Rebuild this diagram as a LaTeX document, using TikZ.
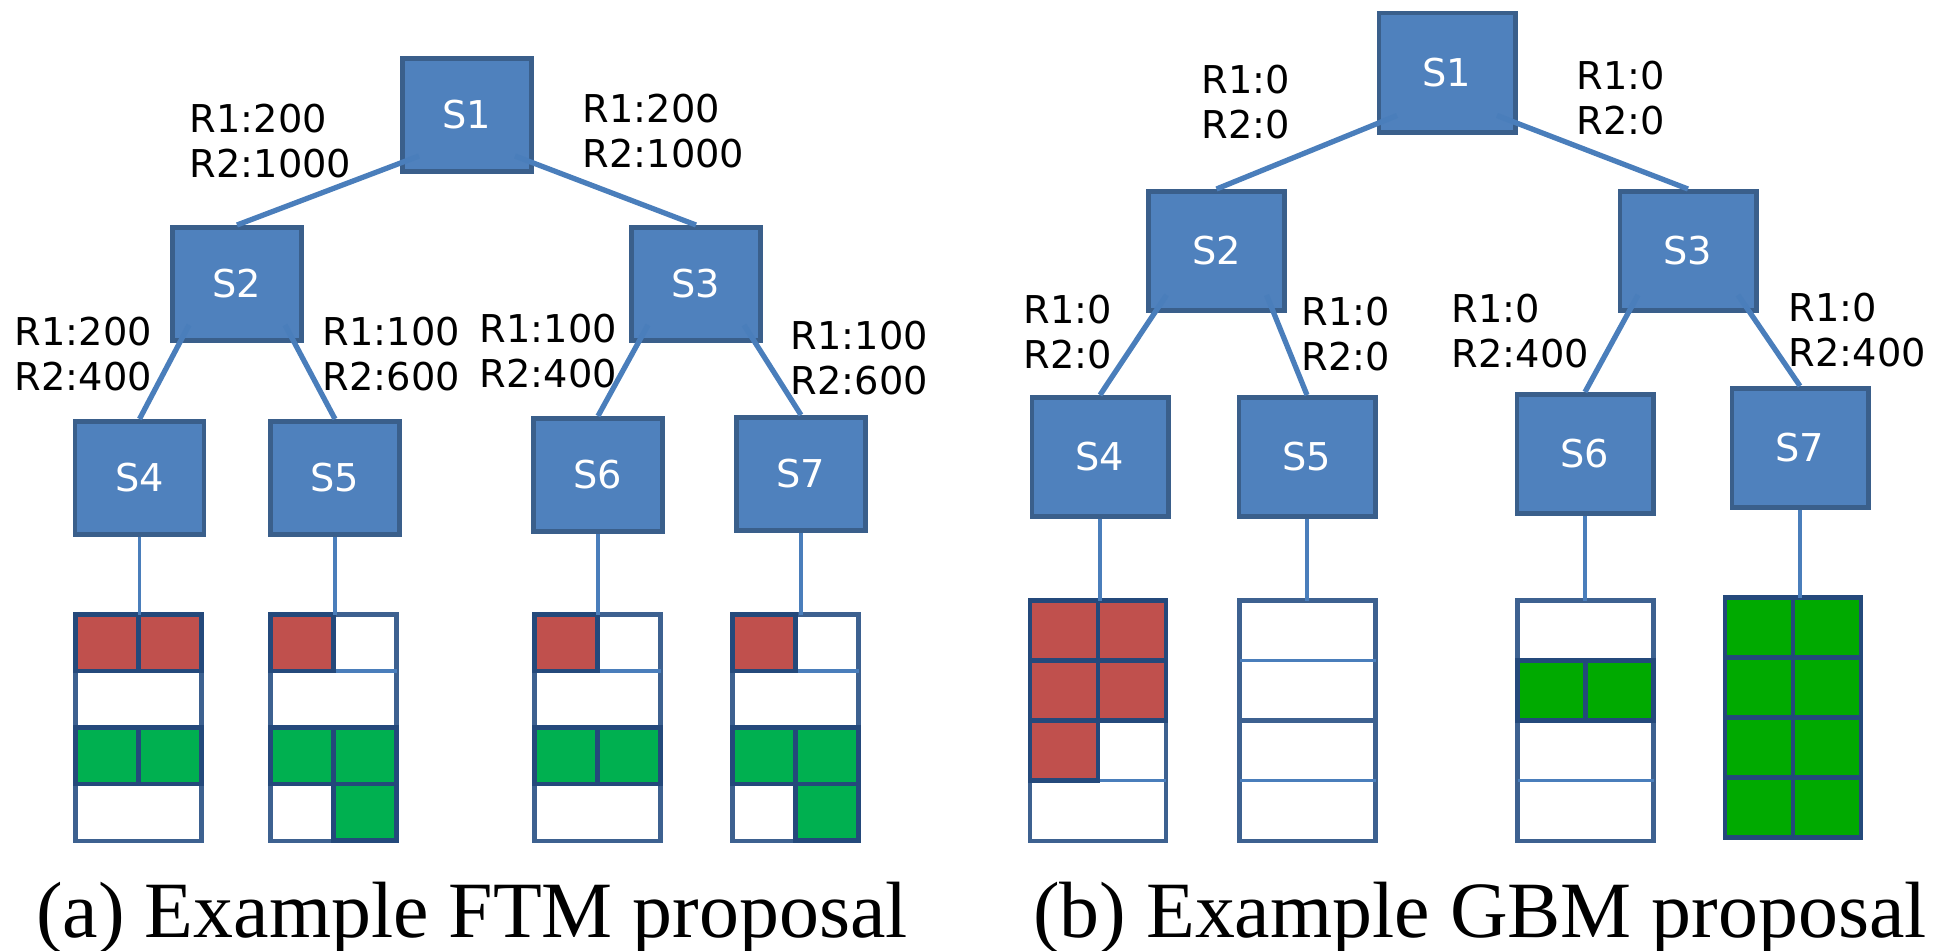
\documentclass[tikz,border=0pt]{standalone}
\usepackage{fontspec}
\setmainfont{Liberation Serif}
\newfontfamily\lblfont{DejaVu Sans}
\usetikzlibrary{calc}

\definecolor{boxfill}{HTML}{4F81BD}
\definecolor{boxline}{HTML}{3A5F8B}
\definecolor{linkblue}{HTML}{4A7EBB}
\definecolor{frameblue}{HTML}{3D6190}
\definecolor{cellline}{HTML}{24497B}
\definecolor{redcell}{HTML}{C0504D}
\definecolor{greenA}{HTML}{00B050}
\definecolor{greenB}{HTML}{00AA00}

% one slot of a bucket: bucket, column, row, colour
\newcommand{\slotfill}[4]{%
  \draw[slot, fill=#4] ($(#1.north west)+(#2*\cw,#3*\ch)$) rectangle ++(\cw,\ch);}
% row lines of a bucket
\newcommand{\rowlines}[1]{%
  \foreach \r in {1,2,3}
    \draw[divline] ($(#1.north west)+(0,\r*\ch)$) -- ++(2*\cw,0);}

\begin{document}
\begin{tikzpicture}[x=0.01cm, y=-0.01cm,
        sbox/.style = {rectangle, draw=boxline, line width=1.4pt,
            fill=boxfill, text=white, inner sep=0pt,
            font={\lblfont\fontsize{10.9pt}{12.8pt}\selectfont}},
        lbox/.style = {sbox, minimum width=1.29cm, minimum height=1.13cm},
        rbox/.style = {sbox, minimum width=1.36cm, minimum height=1.19cm},
        rate/.style = {anchor=west, align=left, inner sep=0pt,
            font={\lblfont\fontsize{10.9pt}{12.8pt}\selectfont}},
        link/.style = {draw=linkblue, line width=1.5pt},
        stem/.style = {draw=linkblue, line width=0.9pt},
        lbucket/.style = {rectangle, draw=frameblue, line width=1.2pt,
            fill=white, inner sep=0pt, outer sep=0pt, anchor=north west,
            minimum width=1.26cm, minimum height=2.26cm},
        rbucket/.style = {lbucket, minimum width=1.36cm, minimum height=2.40cm},
        slot/.style = {draw=cellline, line width=1.4pt},
        divline/.style = {draw=linkblue, line width=1pt},
        caption/.style = {anchor=base, inner sep=0pt,
            font={\fontsize{22.7pt}{27pt}\selectfont}}]

    \useasboundingbox (0,0) rectangle (1935,951);

    % ---- (a) FTM ----
    \def\cw{63}\def\ch{56.5}

    % Tree
    \node[lbox] (aS1) at (467,115) {S1};
    \node[lbox] (aS2) at (237,284) {S2};
    \node[lbox] (aS3) at (696,284) {S3};
    \node[lbox] (aS4) at (139.5,478) {S4};
    \node[lbox] (aS5) at (335,478) {S5};
    \node[lbox] (aS6) at (598,475) {S6};
    \node[lbox] (aS7) at (801,474) {S7};

    \draw[link] ([shift={(-48,-18)}]aS1.south) -- (aS2.north);
    \draw[link] ([shift={(48,-18)}]aS1.south) -- (aS3.north);
    \draw[link] ([shift={(-48,-18)}]aS2.south) -- (aS4.north);
    \draw[link] ([shift={(48,-18)}]aS2.south) -- (aS5.north);
    \draw[link] ([shift={(-48,-18)}]aS3.south) -- (aS6.north);
    \draw[link] ([shift={(48,-18)}]aS3.south) -- (aS7.north);

    % Rates
    \node[rate] (aR12) at (189,141.5) {R1:200\\R2:1000};
    \node[rate] (aR13) at (582,131.5) {R1:200\\R2:1000};
    \node[rate] (aR24) at (14,354) {R1:200\\R2:400};
    \node[rate] (aR25) at (322,354) {R1:100\\R2:600};
    \node[rate] (aR36) at (479,351.5) {R1:100\\R2:400};
    \node[rate] (aR37) at (790,358) {R1:100\\R2:600};

    % Buckets
    \node[lbucket] (aB4) at (75.5,614.5) {};
    \node[lbucket] (aB5) at (270.5,614.5) {};
    \node[lbucket] (aB6) at (534.5,614.5) {};
    \node[lbucket] (aB7) at (732.5,614.5) {};
    \foreach \b in {aB4,aB5,aB6,aB7} {\rowlines{\b}}

    \slotfill{aB4}{0}{0}{redcell} \slotfill{aB4}{1}{0}{redcell}
    \slotfill{aB4}{0}{2}{greenA} \slotfill{aB4}{1}{2}{greenA}
    \slotfill{aB5}{0}{0}{redcell}
    \slotfill{aB5}{0}{2}{greenA} \slotfill{aB5}{1}{2}{greenA}
    \slotfill{aB5}{1}{3}{greenA}
    \slotfill{aB6}{0}{0}{redcell}
    \slotfill{aB6}{0}{2}{greenA} \slotfill{aB6}{1}{2}{greenA}
    \slotfill{aB7}{0}{0}{redcell}
    \slotfill{aB7}{0}{2}{greenA} \slotfill{aB7}{1}{2}{greenA}
    \slotfill{aB7}{1}{3}{greenA}

    \foreach \i in {4,5,6,7}
        \draw[stem] (aS\i.south) -- (aS\i.south |- aB\i.north);

    \node[caption] (capA) at (472,937) {(a) Example FTM proposal};

    % ---- (b) GBM ----
    \def\cw{68}\def\ch{60}

    % Tree
    \node[rbox] (bS1) at (1447,72.5) {S1};
    \node[rbox] (bS2) at (1216.5,251) {S2};
    \node[rbox] (bS3) at (1688,251) {S3};
    \node[rbox] (bS4) at (1100,457) {S4};
    \node[rbox] (bS5) at (1307,457) {S5};
    \node[rbox] (bS6) at (1585,454) {S6};
    \node[rbox] (bS7) at (1800,448) {S7};

    \draw[link] ([shift={(-50,-19)}]bS1.south) -- (bS2.north);
    \draw[link] ([shift={(50,-19)}]bS1.south) -- (bS3.north);
    \draw[link] ([shift={(-50,-18)}]bS2.south) -- (bS4.north);
    \draw[link] ([shift={(50,-18)}]bS2.south) -- (bS5.north);
    \draw[link] ([shift={(-50,-18)}]bS3.south) -- (bS6.north);
    \draw[link] ([shift={(50,-18)}]bS3.south) -- (bS7.north);

    % Rates
    \node[rate] (bR12) at (1201,102) {R1:0\\R2:0};
    \node[rate] (bR13) at (1576,98.5) {R1:0\\R2:0};
    \node[rate] (bR24) at (1023,332) {R1:0\\R2:0};
    \node[rate] (bR25) at (1301,334) {R1:0\\R2:0};
    \node[rate] (bR36) at (1451,331.5) {R1:0\\R2:400};
    \node[rate] (bR37) at (1788,330.5) {R1:0\\R2:400};

    % Buckets
    \node[rbucket] (bB4) at (1030,600.5) {};
    \node[rbucket] (bB5) at (1239.5,600.5) {};
    \node[rbucket] (bB6) at (1517.5,600.5) {};
    \node[rbucket] (bB7) at (1725,597.5) {};
    \foreach \b in {bB4,bB5,bB6,bB7} {\rowlines{\b}}
    \draw[draw=frameblue, line width=1.2pt]
        ($(bB5.north west)+(0,2*\ch)$) -- ++(2*\cw,0);

    \foreach \c/\r in {0/0,1/0,0/1,1/1,0/2}
        \slotfill{bB4}{\c}{\r}{redcell};
    \slotfill{bB6}{0}{1}{greenB} \slotfill{bB6}{1}{1}{greenB}
    \foreach \c in {0,1}
        \foreach \r in {0,1,2,3}
            \slotfill{bB7}{\c}{\r}{greenB};

    \foreach \i in {4,5,6,7}
        \draw[stem] (bS\i.south) -- (bS\i.south |- bB\i.north);

    \node[caption] (capB) at (1480,937) {(b) Example GBM proposal};

\end{tikzpicture}
\end{document}
